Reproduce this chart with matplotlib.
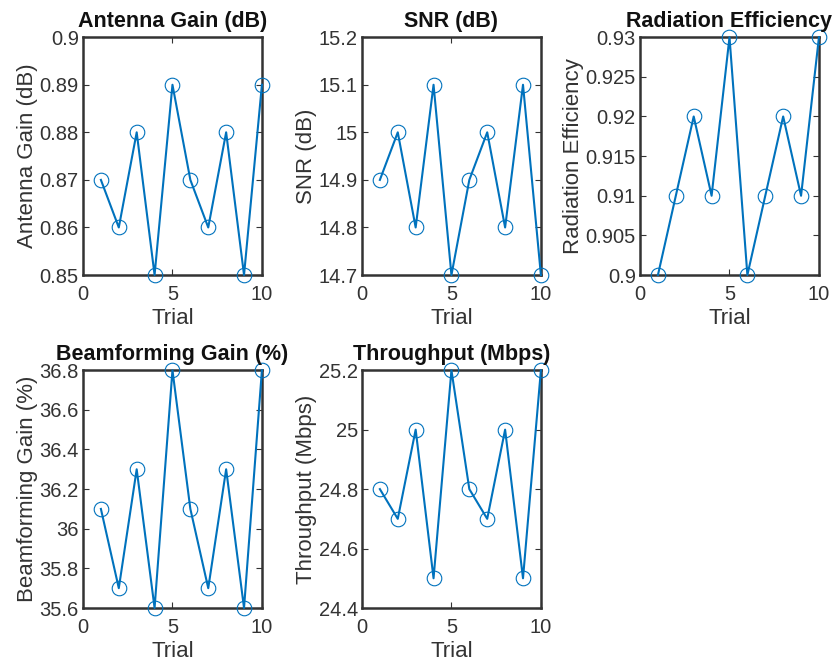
import matplotlib.pyplot as plt
import numpy as np

trial = np.arange(1, 11)

antenna_gain = [0.87, 0.86, 0.88, 0.85, 0.89, 0.87, 0.86, 0.88, 0.85, 0.89]
snr = [14.9, 15.0, 14.8, 15.1, 14.7, 14.9, 15.0, 14.8, 15.1, 14.7]
rad_eff = [0.90, 0.91, 0.92, 0.91, 0.93, 0.90, 0.91, 0.92, 0.91, 0.93]
beam_gain = [36.1, 35.7, 36.3, 35.6, 36.8, 36.1, 35.7, 36.3, 35.6, 36.8]
throughput = [24.8, 24.7, 25.0, 24.5, 25.2, 24.8, 24.7, 25.0, 24.5, 25.2]

panels = [
    ("Antenna Gain (dB)", "Antenna Gain (dB)", antenna_gain, (0.85, 0.9),
     [0.85, 0.86, 0.87, 0.88, 0.89, 0.9], ["0.85", "0.86", "0.87", "0.88", "0.89", "0.9"]),
    ("SNR (dB)", "SNR (dB)", snr, (14.7, 15.2),
     [14.7, 14.8, 14.9, 15.0, 15.1, 15.2], ["14.7", "14.8", "14.9", "15", "15.1", "15.2"]),
    ("Radiation Efficiency", "Radiation Efficiency", rad_eff, (0.9, 0.93),
     [0.9, 0.905, 0.91, 0.915, 0.92, 0.925, 0.93],
     ["0.9", "0.905", "0.91", "0.915", "0.92", "0.925", "0.93"]),
    ("Beamforming Gain (%)", "Beamforming Gain (%)", beam_gain, (35.6, 36.8),
     [35.6, 35.8, 36.0, 36.2, 36.4, 36.6, 36.8],
     ["35.6", "35.8", "36", "36.2", "36.4", "36.6", "36.8"]),
    ("Throughput (Mbps)", "Throughput (Mbps)", throughput, (24.4, 25.2),
     [24.4, 24.6, 24.8, 25.0, 25.2], ["24.4", "24.6", "24.8", "25", "25.2"]),
]

plt.rcParams['font.family'] = ['Liberation Sans', 'DejaVu Sans']
txt = '#333333'
fig = plt.figure(figsize=(8.36, 6.68), dpi=100)

lefts = [0.0993, 0.433, 0.7656]
bottoms = [0.5883, 0.0898]
w, h = 0.214, 0.356

for i, (title, ylabel, y, ylim, yt, ytl) in enumerate(panels):
    ax = fig.add_axes([lefts[i % 3], bottoms[i // 3], w, h])
    ax.plot(trial, y, '-o', color='#0072BD', lw=1.5, ms=10.5, mfc='none', mew=0.8,
            clip_on=False, zorder=3)
    ax.set_xlim(0, 10)
    ax.set_ylim(*ylim)
    ax.set_xticks([0, 5, 10])
    ax.set_yticks(yt)
    ax.set_yticklabels(ytl)
    ax.set_title(title, fontsize=15.5, fontweight='bold', color='#111111', pad=7)
    ax.set_xlabel("Trial", fontsize=16, color=txt, labelpad=3)
    ax.set_ylabel(ylabel, fontsize=16, color=txt, labelpad=1)
    ax.tick_params(direction='in', labelsize=14.5, colors=txt, length=4, width=0.8,
                   top=True, right=True, pad=3)
    ax.tick_params(axis='x', pad=7)
    for s in ax.spines.values():
        s.set_linewidth(1.8)
        s.set_color(txt)
        s.set_zorder(2)

fig.savefig("out.png", dpi=100)
